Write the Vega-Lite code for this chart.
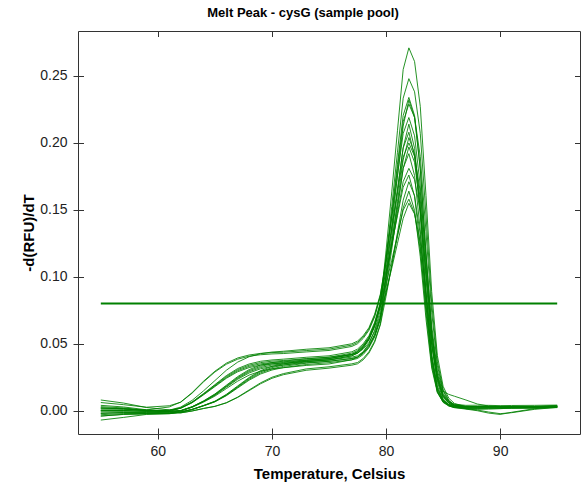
{
"$schema": "https://vega.github.io/schema/vega-lite/v6.json",
"width": 502, "height": 403,
"autosize": {"type": "none"},
"padding": {"left": 78, "top": 31, "right": 2, "bottom": 56},
"background": "white",
"title": {"text": "Melt Peak - cysG (sample pool)", "fontSize": 13, "fontWeight": "bold", "font": "Liberation Sans", "color": "#000", "anchor": "middle", "frame": "group", "dx": -26, "dy": 10, "offset": 11, "baseline": "alphabetic"},
"config": {"view": {"stroke": "#333", "strokeWidth": 1}, "axis": {"labelFont": "Liberation Sans", "titleFont": "Liberation Sans", "grid": false, "tickColor": "#333", "labelColor": "#222", "titleColor": "#000"}},
"datasets": {
"curves": [
{"s":1,"t":55,"v":0.002},{"s":1,"t":57,"v":0.0015},{"s":1,"t":59,"v":0.0},{"s":1,"t":61,"v":-0.0006},{"s":1,"t":62,"v":0.0},{"s":1,"t":63,"v":0.0029},{"s":1,"t":64,"v":0.0071},{"s":1,"t":65,"v":0.0122},{"s":1,"t":66,"v":0.0185},{"s":1,"t":67,"v":0.0248},{"s":1,"t":68,"v":0.0299},{"s":1,"t":69,"v":0.0331},{"s":1,"t":70,"v":0.035},{"s":1,"t":71,"v":0.036},{"s":1,"t":73,"v":0.0377},{"s":1,"t":75,"v":0.0389},{"s":1,"t":77,"v":0.042},{"s":1,"t":77.5,"v":0.044},{"s":1,"t":78,"v":0.048},{"s":1,"t":78.5,"v":0.054},{"s":1,"t":79,"v":0.064},{"s":1,"t":79.5,"v":0.079},{"s":1,"t":80,"v":0.1194},{"s":1,"t":80.5,"v":0.1634},{"s":1,"t":81,"v":0.2091},{"s":1,"t":81.5,"v":0.2548},{"s":1,"t":82,"v":0.271},{"s":1,"t":82.5,"v":0.2608},{"s":1,"t":83,"v":0.2273},{"s":1,"t":83.5,"v":0.1608},{"s":1,"t":84,"v":0.089},{"s":1,"t":84.5,"v":0.0411},{"s":1,"t":85,"v":0.0183},{"s":1,"t":85.5,"v":0.0093},{"s":1,"t":86,"v":0.0054},{"s":1,"t":87,"v":0.003},{"s":1,"t":88,"v":0.003},{"s":1,"t":89,"v":0.0032},{"s":1,"t":90,"v":0.003},{"s":1,"t":91,"v":0.0028},{"s":1,"t":93,"v":0.003},{"s":1,"t":95,"v":0.0035},
{"s":2,"t":55,"v":0.0},{"s":2,"t":57,"v":0.0001},{"s":2,"t":59,"v":-0.0005},{"s":2,"t":61,"v":0.0},{"s":2,"t":62,"v":0.0018},{"s":2,"t":63,"v":0.0059},{"s":2,"t":64,"v":0.0118},{"s":2,"t":65,"v":0.018},{"s":2,"t":66,"v":0.0242},{"s":2,"t":67,"v":0.0291},{"s":2,"t":68,"v":0.0322},{"s":2,"t":69,"v":0.0341},{"s":2,"t":70,"v":0.035},{"s":2,"t":71,"v":0.0355},{"s":2,"t":73,"v":0.0369},{"s":2,"t":75,"v":0.038},{"s":2,"t":77,"v":0.041},{"s":2,"t":77.5,"v":0.043},{"s":2,"t":78,"v":0.047},{"s":2,"t":78.5,"v":0.053},{"s":2,"t":79,"v":0.063},{"s":2,"t":79.5,"v":0.078},{"s":2,"t":80,"v":0.1137},{"s":2,"t":80.5,"v":0.1526},{"s":2,"t":81,"v":0.193},{"s":2,"t":81.5,"v":0.2334},{"s":2,"t":82,"v":0.248},{"s":2,"t":82.5,"v":0.2382},{"s":2,"t":83,"v":0.2072},{"s":2,"t":83.5,"v":0.1462},{"s":2,"t":84,"v":0.0806},{"s":2,"t":84.5,"v":0.0368},{"s":2,"t":85,"v":0.016},{"s":2,"t":85.5,"v":0.0078},{"s":2,"t":86,"v":0.0041},{"s":2,"t":87,"v":0.0022},{"s":2,"t":88,"v":0.002},{"s":2,"t":89,"v":0.0021},{"s":2,"t":90,"v":0.002},{"s":2,"t":91,"v":0.0022},{"s":2,"t":93,"v":0.0024},{"s":2,"t":95,"v":0.0028},
{"s":3,"t":55,"v":-0.002},{"s":3,"t":57,"v":-0.0013},{"s":3,"t":59,"v":-0.0015},{"s":3,"t":61,"v":-0.0014},{"s":3,"t":62,"v":0.0001},{"s":3,"t":63,"v":0.003},{"s":3,"t":64,"v":0.0073},{"s":3,"t":65,"v":0.0125},{"s":3,"t":66,"v":0.019},{"s":3,"t":67,"v":0.0255},{"s":3,"t":68,"v":0.0307},{"s":3,"t":69,"v":0.034},{"s":3,"t":70,"v":0.0359},{"s":3,"t":71,"v":0.037},{"s":3,"t":73,"v":0.0387},{"s":3,"t":75,"v":0.0399},{"s":3,"t":77,"v":0.043},{"s":3,"t":77.5,"v":0.045},{"s":3,"t":78,"v":0.049},{"s":3,"t":78.5,"v":0.055},{"s":3,"t":79,"v":0.065},{"s":3,"t":79.5,"v":0.08},{"s":3,"t":80,"v":0.1123},{"s":3,"t":80.5,"v":0.1474},{"s":3,"t":81,"v":0.184},{"s":3,"t":81.5,"v":0.2205},{"s":3,"t":82,"v":0.234},{"s":3,"t":82.5,"v":0.2204},{"s":3,"t":83,"v":0.181},{"s":3,"t":83.5,"v":0.1177},{"s":3,"t":84,"v":0.0584},{"s":3,"t":84.5,"v":0.0256},{"s":3,"t":85,"v":0.0111},{"s":3,"t":85.5,"v":0.0058},{"s":3,"t":86,"v":0.0038},{"s":3,"t":87,"v":0.003},{"s":3,"t":88,"v":0.0031},{"s":3,"t":89,"v":0.003},{"s":3,"t":90,"v":0.0029},{"s":3,"t":91,"v":0.003},{"s":3,"t":93,"v":0.0032},{"s":3,"t":95,"v":0.0033},
{"s":4,"t":55,"v":0.004},{"s":4,"t":57,"v":0.0028},{"s":4,"t":59,"v":0.0007},{"s":4,"t":61,"v":-0.0007},{"s":4,"t":62,"v":-0.001},{"s":4,"t":63,"v":0.0009},{"s":4,"t":64,"v":0.0037},{"s":4,"t":65,"v":0.0068},{"s":4,"t":66,"v":0.0115},{"s":4,"t":67,"v":0.0175},{"s":4,"t":68,"v":0.0235},{"s":4,"t":69,"v":0.0282},{"s":4,"t":70,"v":0.0313},{"s":4,"t":71,"v":0.0331},{"s":4,"t":73,"v":0.0355},{"s":4,"t":75,"v":0.0369},{"s":4,"t":77,"v":0.039},{"s":4,"t":77.5,"v":0.04},{"s":4,"t":78,"v":0.043},{"s":4,"t":78.5,"v":0.048},{"s":4,"t":79,"v":0.056},{"s":4,"t":79.5,"v":0.069},{"s":4,"t":80,"v":0.102},{"s":4,"t":80.5,"v":0.1379},{"s":4,"t":81,"v":0.1753},{"s":4,"t":81.5,"v":0.2126},{"s":4,"t":82,"v":0.232},{"s":4,"t":82.5,"v":0.2189},{"s":4,"t":83,"v":0.1803},{"s":4,"t":83.5,"v":0.1177},{"s":4,"t":84,"v":0.0589},{"s":4,"t":84.5,"v":0.0263},{"s":4,"t":85,"v":0.012},{"s":4,"t":85.5,"v":0.0068},{"s":4,"t":86,"v":0.0048},{"s":4,"t":87,"v":0.004},{"s":4,"t":88,"v":0.0041},{"s":4,"t":89,"v":0.004},{"s":4,"t":90,"v":0.0038},{"s":4,"t":91,"v":0.0039},{"s":4,"t":93,"v":0.004},{"s":4,"t":95,"v":0.0042},
{"s":5,"t":55,"v":-0.004},{"s":5,"t":57,"v":-0.0027},{"s":5,"t":59,"v":-0.0021},{"s":5,"t":61,"v":-0.0007},{"s":5,"t":62,"v":0.0021},{"s":5,"t":63,"v":0.0065},{"s":5,"t":64,"v":0.0128},{"s":5,"t":65,"v":0.0195},{"s":5,"t":66,"v":0.0262},{"s":5,"t":67,"v":0.0315},{"s":5,"t":68,"v":0.0349},{"s":5,"t":69,"v":0.0369},{"s":5,"t":70,"v":0.0379},{"s":5,"t":71,"v":0.0385},{"s":5,"t":73,"v":0.0399},{"s":5,"t":75,"v":0.041},{"s":5,"t":77,"v":0.044},{"s":5,"t":77.5,"v":0.046},{"s":5,"t":78,"v":0.05},{"s":5,"t":78.5,"v":0.056},{"s":5,"t":79,"v":0.066},{"s":5,"t":79.5,"v":0.081},{"s":5,"t":80,"v":0.112},{"s":5,"t":80.5,"v":0.1458},{"s":5,"t":81,"v":0.1808},{"s":5,"t":81.5,"v":0.2159},{"s":5,"t":82,"v":0.229},{"s":5,"t":82.5,"v":0.2191},{"s":5,"t":83,"v":0.1899},{"s":5,"t":83.5,"v":0.1337},{"s":5,"t":84,"v":0.0736},{"s":5,"t":84.5,"v":0.0338},{"s":5,"t":85,"v":0.0148},{"s":5,"t":85.5,"v":0.0072},{"s":5,"t":86,"v":0.0039},{"s":5,"t":87,"v":0.0015},{"s":5,"t":88,"v":0.001},{"s":5,"t":89,"v":0.0012},{"s":5,"t":90,"v":0.0015},{"s":5,"t":91,"v":0.002},{"s":5,"t":93,"v":0.0022},{"s":5,"t":95,"v":0.0025},
{"s":6,"t":55,"v":0.0011},{"s":6,"t":57,"v":0.001},{"s":6,"t":59,"v":0.0006},{"s":6,"t":61,"v":0.0028},{"s":6,"t":62,"v":0.0065},{"s":6,"t":63,"v":0.0135},{"s":6,"t":64,"v":0.022},{"s":6,"t":65,"v":0.0295},{"s":6,"t":66,"v":0.0355},{"s":6,"t":67,"v":0.0394},{"s":6,"t":68,"v":0.0416},{"s":6,"t":69,"v":0.0428},{"s":6,"t":70,"v":0.0434},{"s":6,"t":71,"v":0.0437},{"s":6,"t":73,"v":0.0449},{"s":6,"t":75,"v":0.046},{"s":6,"t":77,"v":0.049},{"s":6,"t":77.5,"v":0.051},{"s":6,"t":78,"v":0.055},{"s":6,"t":78.5,"v":0.061},{"s":6,"t":79,"v":0.071},{"s":6,"t":79.5,"v":0.086},{"s":6,"t":80,"v":0.1138},{"s":6,"t":80.5,"v":0.1441},{"s":6,"t":81,"v":0.1755},{"s":6,"t":81.5,"v":0.207},{"s":6,"t":82,"v":0.219},{"s":6,"t":82.5,"v":0.2053},{"s":6,"t":83,"v":0.1679},{"s":6,"t":83.5,"v":0.1091},{"s":6,"t":84,"v":0.0543},{"s":6,"t":84.5,"v":0.024},{"s":6,"t":85,"v":0.0106},{"s":6,"t":85.5,"v":0.0056},{"s":6,"t":86,"v":0.0037},{"s":6,"t":87,"v":0.003},{"s":6,"t":88,"v":0.0029},{"s":6,"t":89,"v":0.003},{"s":6,"t":90,"v":0.0031},{"s":6,"t":91,"v":0.003},{"s":6,"t":93,"v":0.003},{"s":6,"t":95,"v":0.0032},
{"s":7,"t":55,"v":0.008},{"s":7,"t":57,"v":0.0057},{"s":7,"t":59,"v":0.0024},{"s":7,"t":61,"v":0.0006},{"s":7,"t":62,"v":0.0},{"s":7,"t":63,"v":0.0028},{"s":7,"t":64,"v":0.0069},{"s":7,"t":65,"v":0.0118},{"s":7,"t":66,"v":0.018},{"s":7,"t":67,"v":0.0242},{"s":7,"t":68,"v":0.0291},{"s":7,"t":69,"v":0.0322},{"s":7,"t":70,"v":0.0341},{"s":7,"t":71,"v":0.035},{"s":7,"t":73,"v":0.0367},{"s":7,"t":75,"v":0.0379},{"s":7,"t":77,"v":0.04},{"s":7,"t":77.5,"v":0.041},{"s":7,"t":78,"v":0.044},{"s":7,"t":78.5,"v":0.049},{"s":7,"t":79,"v":0.057},{"s":7,"t":79.5,"v":0.07},{"s":7,"t":80,"v":0.0991},{"s":7,"t":80.5,"v":0.1307},{"s":7,"t":81,"v":0.1636},{"s":7,"t":81.5,"v":0.1965},{"s":7,"t":82,"v":0.214},{"s":7,"t":82.5,"v":0.196},{"s":7,"t":83,"v":0.1509},{"s":7,"t":83.5,"v":0.0896},{"s":7,"t":84,"v":0.041},{"s":7,"t":84.5,"v":0.0163},{"s":7,"t":85,"v":0.0077},{"s":7,"t":85.5,"v":0.0047},{"s":7,"t":86,"v":0.0034},{"s":7,"t":87,"v":0.0032},{"s":7,"t":88,"v":0.003},{"s":7,"t":89,"v":0.0028},{"s":7,"t":90,"v":0.003},{"s":7,"t":91,"v":0.0031},{"s":7,"t":93,"v":0.003},{"s":7,"t":95,"v":0.0034},
{"s":8,"t":55,"v":0.002},{"s":8,"t":57,"v":0.0015},{"s":8,"t":59,"v":0.0003},{"s":8,"t":61,"v":0.0004},{"s":8,"t":62,"v":0.0019},{"s":8,"t":63,"v":0.0061},{"s":8,"t":64,"v":0.0122},{"s":8,"t":65,"v":0.0185},{"s":8,"t":66,"v":0.0248},{"s":8,"t":67,"v":0.0299},{"s":8,"t":68,"v":0.0331},{"s":8,"t":69,"v":0.035},{"s":8,"t":70,"v":0.036},{"s":8,"t":71,"v":0.0365},{"s":8,"t":73,"v":0.0379},{"s":8,"t":75,"v":0.039},{"s":8,"t":77,"v":0.042},{"s":8,"t":77.5,"v":0.044},{"s":8,"t":78,"v":0.048},{"s":8,"t":78.5,"v":0.054},{"s":8,"t":79,"v":0.064},{"s":8,"t":79.5,"v":0.079},{"s":8,"t":80,"v":0.106},{"s":8,"t":80.5,"v":0.1353},{"s":8,"t":81,"v":0.1657},{"s":8,"t":81.5,"v":0.1962},{"s":8,"t":82,"v":0.208},{"s":8,"t":82.5,"v":0.1901},{"s":8,"t":83,"v":0.1461},{"s":8,"t":83.5,"v":0.0864},{"s":8,"t":84,"v":0.039},{"s":8,"t":84.5,"v":0.0151},{"s":8,"t":85,"v":0.0066},{"s":8,"t":85.5,"v":0.0036},{"s":8,"t":86,"v":0.0023},{"s":8,"t":87,"v":0.002},{"s":8,"t":88,"v":0.0018},{"s":8,"t":89,"v":0.0019},{"s":8,"t":90,"v":0.002},{"s":8,"t":91,"v":0.0021},{"s":8,"t":93,"v":0.0022},{"s":8,"t":95,"v":0.0026},
{"s":9,"t":55,"v":-0.003},{"s":9,"t":57,"v":-0.0021},{"s":9,"t":59,"v":-0.0021},{"s":9,"t":61,"v":-0.0021},{"s":9,"t":62,"v":-0.0011},{"s":9,"t":63,"v":0.0008},{"s":9,"t":64,"v":0.0036},{"s":9,"t":65,"v":0.0066},{"s":9,"t":66,"v":0.0112},{"s":9,"t":67,"v":0.017},{"s":9,"t":68,"v":0.0228},{"s":9,"t":69,"v":0.0274},{"s":9,"t":70,"v":0.0304},{"s":9,"t":71,"v":0.0322},{"s":9,"t":73,"v":0.0345},{"s":9,"t":75,"v":0.0359},{"s":9,"t":77,"v":0.038},{"s":9,"t":77.5,"v":0.039},{"s":9,"t":78,"v":0.042},{"s":9,"t":78.5,"v":0.047},{"s":9,"t":79,"v":0.055},{"s":9,"t":79.5,"v":0.068},{"s":9,"t":80,"v":0.0954},{"s":9,"t":80.5,"v":0.1253},{"s":9,"t":81,"v":0.1563},{"s":9,"t":81.5,"v":0.1873},{"s":9,"t":82,"v":0.204},{"s":9,"t":82.5,"v":0.192},{"s":9,"t":83,"v":0.1577},{"s":9,"t":83.5,"v":0.1027},{"s":9,"t":84,"v":0.0512},{"s":9,"t":84.5,"v":0.0226},{"s":9,"t":85,"v":0.01},{"s":9,"t":85.5,"v":0.0055},{"s":9,"t":86,"v":0.0037},{"s":9,"t":87,"v":0.0029},{"s":9,"t":88,"v":0.003},{"s":9,"t":89,"v":0.0031},{"s":9,"t":90,"v":0.003},{"s":9,"t":91,"v":0.0029},{"s":9,"t":93,"v":0.003},{"s":9,"t":95,"v":0.0033},
{"s":10,"t":55,"v":0.0},{"s":10,"t":57,"v":0.0001},{"s":10,"t":59,"v":-0.0004},{"s":10,"t":61,"v":0.0004},{"s":10,"t":62,"v":0.0027},{"s":10,"t":63,"v":0.0077},{"s":10,"t":64,"v":0.0148},{"s":10,"t":65,"v":0.0225},{"s":10,"t":66,"v":0.0302},{"s":10,"t":67,"v":0.0363},{"s":10,"t":68,"v":0.0403},{"s":10,"t":69,"v":0.0426},{"s":10,"t":70,"v":0.0438},{"s":10,"t":71,"v":0.0444},{"s":10,"t":73,"v":0.0459},{"s":10,"t":75,"v":0.047},{"s":10,"t":77,"v":0.05},{"s":10,"t":77.5,"v":0.052},{"s":10,"t":78,"v":0.056},{"s":10,"t":78.5,"v":0.062},{"s":10,"t":79,"v":0.072},{"s":10,"t":79.5,"v":0.087},{"s":10,"t":80,"v":0.1106},{"s":10,"t":80.5,"v":0.1362},{"s":10,"t":81,"v":0.1628},{"s":10,"t":81.5,"v":0.1894},{"s":10,"t":82,"v":0.2},{"s":10,"t":82.5,"v":0.19},{"s":10,"t":83,"v":0.1636},{"s":10,"t":83.5,"v":0.1149},{"s":10,"t":84,"v":0.0638},{"s":10,"t":84.5,"v":0.03},{"s":10,"t":85,"v":0.0145},{"s":10,"t":85.5,"v":0.0122},{"s":10,"t":86,"v":0.0108},{"s":10,"t":87,"v":0.008},{"s":10,"t":88,"v":0.005},{"s":10,"t":89,"v":0.0035},{"s":10,"t":90,"v":0.003},{"s":10,"t":91,"v":0.003},{"s":10,"t":93,"v":0.0031},{"s":10,"t":95,"v":0.0034},
{"s":11,"t":55,"v":0.003},{"s":11,"t":57,"v":0.0021},{"s":11,"t":59,"v":0.0002},{"s":11,"t":61,"v":-0.0012},{"s":11,"t":62,"v":-0.0016},{"s":11,"t":63,"v":-0.0002},{"s":11,"t":64,"v":0.0017},{"s":11,"t":65,"v":0.0033},{"s":11,"t":66,"v":0.006},{"s":11,"t":67,"v":0.0102},{"s":11,"t":68,"v":0.0155},{"s":11,"t":69,"v":0.0208},{"s":11,"t":70,"v":0.025},{"s":11,"t":71,"v":0.0277},{"s":11,"t":73,"v":0.0312},{"s":11,"t":75,"v":0.0328},{"s":11,"t":77,"v":0.035},{"s":11,"t":77.5,"v":0.036},{"s":11,"t":78,"v":0.039},{"s":11,"t":78.5,"v":0.044},{"s":11,"t":79,"v":0.052},{"s":11,"t":79.5,"v":0.065},{"s":11,"t":80,"v":0.0916},{"s":11,"t":80.5,"v":0.1205},{"s":11,"t":81,"v":0.1506},{"s":11,"t":81.5,"v":0.1807},{"s":11,"t":82,"v":0.197},{"s":11,"t":82.5,"v":0.1855},{"s":11,"t":83,"v":0.1522},{"s":11,"t":83.5,"v":0.0989},{"s":11,"t":84,"v":0.0488},{"s":11,"t":84.5,"v":0.0211},{"s":11,"t":85,"v":0.0088},{"s":11,"t":85.5,"v":0.0043},{"s":11,"t":86,"v":0.0027},{"s":11,"t":87,"v":0.002},{"s":11,"t":88,"v":0.0021},{"s":11,"t":89,"v":0.002},{"s":11,"t":90,"v":0.0019},{"s":11,"t":91,"v":0.002},{"s":11,"t":93,"v":0.0021},{"s":11,"t":95,"v":0.0024},
{"s":12,"t":55,"v":-0.007},{"s":12,"t":57,"v":-0.005},{"s":12,"t":59,"v":-0.0028},{"s":12,"t":61,"v":-0.0021},{"s":12,"t":62,"v":-0.0002},{"s":12,"t":63,"v":0.0025},{"s":12,"t":64,"v":0.0064},{"s":12,"t":65,"v":0.0109},{"s":12,"t":66,"v":0.0165},{"s":12,"t":67,"v":0.0221},{"s":12,"t":68,"v":0.0266},{"s":12,"t":69,"v":0.0295},{"s":12,"t":70,"v":0.0312},{"s":12,"t":71,"v":0.0321},{"s":12,"t":73,"v":0.0338},{"s":12,"t":75,"v":0.0349},{"s":12,"t":77,"v":0.038},{"s":12,"t":77.5,"v":0.04},{"s":12,"t":78,"v":0.044},{"s":12,"t":78.5,"v":0.05},{"s":12,"t":79,"v":0.06},{"s":12,"t":79.5,"v":0.075},{"s":12,"t":80,"v":0.0994},{"s":12,"t":80.5,"v":0.1259},{"s":12,"t":81,"v":0.1535},{"s":12,"t":81.5,"v":0.1811},{"s":12,"t":82,"v":0.192},{"s":12,"t":82.5,"v":0.1756},{"s":12,"t":83,"v":0.135},{"s":12,"t":83.5,"v":0.0799},{"s":12,"t":84,"v":0.0361},{"s":12,"t":84.5,"v":0.0141},{"s":12,"t":85,"v":0.0062},{"s":12,"t":85.5,"v":0.0035},{"s":12,"t":86,"v":0.0023},{"s":12,"t":87,"v":0.0012},{"s":12,"t":88,"v":0.0},{"s":12,"t":89,"v":-0.0018},{"s":12,"t":90,"v":-0.0028},{"s":12,"t":91,"v":-0.0012},{"s":12,"t":93,"v":0.0015},{"s":12,"t":95,"v":0.0028},
{"s":13,"t":55,"v":-0.002},{"s":13,"t":57,"v":-0.0014},{"s":13,"t":59,"v":-0.0017},{"s":13,"t":61,"v":-0.0019},{"s":13,"t":62,"v":-0.001},{"s":13,"t":63,"v":0.001},{"s":13,"t":64,"v":0.0039},{"s":13,"t":65,"v":0.0071},{"s":13,"t":66,"v":0.0122},{"s":13,"t":67,"v":0.0185},{"s":13,"t":68,"v":0.0248},{"s":13,"t":69,"v":0.0299},{"s":13,"t":70,"v":0.0331},{"s":13,"t":71,"v":0.035},{"s":13,"t":73,"v":0.0375},{"s":13,"t":75,"v":0.0389},{"s":13,"t":77,"v":0.042},{"s":13,"t":77.5,"v":0.044},{"s":13,"t":78,"v":0.048},{"s":13,"t":78.5,"v":0.054},{"s":13,"t":79,"v":0.064},{"s":13,"t":79.5,"v":0.079},{"s":13,"t":80,"v":0.1002},{"s":13,"t":80.5,"v":0.1232},{"s":13,"t":81,"v":0.1472},{"s":13,"t":81.5,"v":0.1711},{"s":13,"t":82,"v":0.181},{"s":13,"t":82.5,"v":0.1725},{"s":13,"t":83,"v":0.149},{"s":13,"t":83.5,"v":0.1049},{"s":13,"t":84,"v":0.0584},{"s":13,"t":84.5,"v":0.0276},{"s":13,"t":85,"v":0.0129},{"s":13,"t":85.5,"v":0.0071},{"s":13,"t":86,"v":0.0045},{"s":13,"t":87,"v":0.0032},{"s":13,"t":88,"v":0.003},{"s":13,"t":89,"v":0.0029},{"s":13,"t":90,"v":0.003},{"s":13,"t":91,"v":0.0032},{"s":13,"t":93,"v":0.0031},{"s":13,"t":95,"v":0.0035},
{"s":14,"t":55,"v":0.0061},{"s":14,"t":57,"v":0.0045},{"s":14,"t":59,"v":0.0026},{"s":14,"t":61,"v":0.0037},{"s":14,"t":62,"v":0.0063},{"s":14,"t":63,"v":0.0131},{"s":14,"t":64,"v":0.0215},{"s":14,"t":65,"v":0.0289},{"s":14,"t":66,"v":0.0347},{"s":14,"t":67,"v":0.0385},{"s":14,"t":68,"v":0.0407},{"s":14,"t":69,"v":0.0418},{"s":14,"t":70,"v":0.0424},{"s":14,"t":71,"v":0.0427},{"s":14,"t":73,"v":0.0439},{"s":14,"t":75,"v":0.045},{"s":14,"t":77,"v":0.048},{"s":14,"t":77.5,"v":0.05},{"s":14,"t":78,"v":0.054},{"s":14,"t":78.5,"v":0.06},{"s":14,"t":79,"v":0.07},{"s":14,"t":79.5,"v":0.085},{"s":14,"t":80,"v":0.1038},{"s":14,"t":80.5,"v":0.1243},{"s":14,"t":81,"v":0.1456},{"s":14,"t":81.5,"v":0.1669},{"s":14,"t":82,"v":0.176},{"s":14,"t":82.5,"v":0.16},{"s":14,"t":83,"v":0.1227},{"s":14,"t":83.5,"v":0.0732},{"s":14,"t":84,"v":0.0341},{"s":14,"t":84.5,"v":0.0142},{"s":14,"t":85,"v":0.007},{"s":14,"t":85.5,"v":0.0045},{"s":14,"t":86,"v":0.0033},{"s":14,"t":87,"v":0.003},{"s":14,"t":88,"v":0.0031},{"s":14,"t":89,"v":0.003},{"s":14,"t":90,"v":0.0029},{"s":14,"t":91,"v":0.003},{"s":14,"t":93,"v":0.0031},{"s":14,"t":95,"v":0.0033},
{"s":15,"t":55,"v":-0.001},{"s":15,"t":57,"v":-0.0007},{"s":15,"t":59,"v":-0.0014},{"s":15,"t":61,"v":-0.002},{"s":15,"t":62,"v":-0.0016},{"s":15,"t":63,"v":-0.0002},{"s":15,"t":64,"v":0.0016},{"s":15,"t":65,"v":0.0032},{"s":15,"t":66,"v":0.0058},{"s":15,"t":67,"v":0.0099},{"s":15,"t":68,"v":0.015},{"s":15,"t":69,"v":0.0201},{"s":15,"t":70,"v":0.0242},{"s":15,"t":71,"v":0.0269},{"s":15,"t":73,"v":0.0302},{"s":15,"t":75,"v":0.0318},{"s":15,"t":77,"v":0.034},{"s":15,"t":77.5,"v":0.035},{"s":15,"t":78,"v":0.038},{"s":15,"t":78.5,"v":0.043},{"s":15,"t":79,"v":0.051},{"s":15,"t":79.5,"v":0.064},{"s":15,"t":80,"v":0.0854},{"s":15,"t":80.5,"v":0.1087},{"s":15,"t":81,"v":0.133},{"s":15,"t":81.5,"v":0.1572},{"s":15,"t":82,"v":0.171},{"s":15,"t":82.5,"v":0.1606},{"s":15,"t":83,"v":0.1316},{"s":15,"t":83.5,"v":0.0855},{"s":15,"t":84,"v":0.0424},{"s":15,"t":84.5,"v":0.0185},{"s":15,"t":85,"v":0.0079},{"s":15,"t":85.5,"v":0.004},{"s":15,"t":86,"v":0.0026},{"s":15,"t":87,"v":0.002},{"s":15,"t":88,"v":0.0019},{"s":15,"t":89,"v":0.002},{"s":15,"t":90,"v":0.0021},{"s":15,"t":91,"v":0.002},{"s":15,"t":93,"v":0.002},{"s":15,"t":95,"v":0.0023},
{"s":16,"t":55,"v":0.002},{"s":16,"t":57,"v":0.0015},{"s":16,"t":59,"v":0.0},{"s":16,"t":61,"v":-0.0006},{"s":16,"t":62,"v":-0.0001},{"s":16,"t":63,"v":0.0027},{"s":16,"t":64,"v":0.0068},{"s":16,"t":65,"v":0.0115},{"s":16,"t":66,"v":0.0175},{"s":16,"t":67,"v":0.0235},{"s":16,"t":68,"v":0.0282},{"s":16,"t":69,"v":0.0313},{"s":16,"t":70,"v":0.0331},{"s":16,"t":71,"v":0.0341},{"s":16,"t":73,"v":0.0358},{"s":16,"t":75,"v":0.0369},{"s":16,"t":77,"v":0.039},{"s":16,"t":77.5,"v":0.04},{"s":16,"t":78,"v":0.043},{"s":16,"t":78.5,"v":0.048},{"s":16,"t":79,"v":0.056},{"s":16,"t":79.5,"v":0.069},{"s":16,"t":80,"v":0.088},{"s":16,"t":80.5,"v":0.1086},{"s":16,"t":81,"v":0.13},{"s":16,"t":81.5,"v":0.1514},{"s":16,"t":82,"v":0.164},{"s":16,"t":82.5,"v":0.1495},{"s":16,"t":83,"v":0.115},{"s":16,"t":83.5,"v":0.0686},{"s":16,"t":84,"v":0.0319},{"s":16,"t":84.5,"v":0.0134},{"s":16,"t":85,"v":0.0066},{"s":16,"t":85.5,"v":0.0043},{"s":16,"t":86,"v":0.0033},{"s":16,"t":87,"v":0.003},{"s":16,"t":88,"v":0.0029},{"s":16,"t":89,"v":0.0031},{"s":16,"t":90,"v":0.003},{"s":16,"t":91,"v":0.003},{"s":16,"t":93,"v":0.0029},{"s":16,"t":95,"v":0.0033},
{"s":17,"t":55,"v":-0.004},{"s":17,"t":57,"v":-0.0028},{"s":17,"t":59,"v":-0.0025},{"s":17,"t":61,"v":-0.0023},{"s":17,"t":62,"v":-0.001},{"s":17,"t":63,"v":0.001},{"s":17,"t":64,"v":0.0038},{"s":17,"t":65,"v":0.0069},{"s":17,"t":66,"v":0.0118},{"s":17,"t":67,"v":0.018},{"s":17,"t":68,"v":0.0242},{"s":17,"t":69,"v":0.0291},{"s":17,"t":70,"v":0.0322},{"s":17,"t":71,"v":0.0341},{"s":17,"t":73,"v":0.0365},{"s":17,"t":75,"v":0.0379},{"s":17,"t":77,"v":0.041},{"s":17,"t":77.5,"v":0.043},{"s":17,"t":78,"v":0.047},{"s":17,"t":78.5,"v":0.053},{"s":17,"t":79,"v":0.063},{"s":17,"t":79.5,"v":0.078},{"s":17,"t":80,"v":0.0945},{"s":17,"t":80.5,"v":0.1124},{"s":17,"t":81,"v":0.1311},{"s":17,"t":81.5,"v":0.1497},{"s":17,"t":82,"v":0.158},{"s":17,"t":82.5,"v":0.1474},{"s":17,"t":83,"v":0.1201},{"s":17,"t":83.5,"v":0.0778},{"s":17,"t":84,"v":0.0387},{"s":17,"t":84.5,"v":0.0171},{"s":17,"t":85,"v":0.0075},{"s":17,"t":85.5,"v":0.0039},{"s":17,"t":86,"v":0.0025},{"s":17,"t":87,"v":0.0015},{"s":17,"t":88,"v":0.0005},{"s":17,"t":89,"v":-0.001},{"s":17,"t":90,"v":-0.0022},{"s":17,"t":91,"v":-0.0015},{"s":17,"t":93,"v":0.001},{"s":17,"t":95,"v":0.0025},
{"s":18,"t":55,"v":0.0},{"s":18,"t":57,"v":0.0001},{"s":18,"t":59,"v":-0.0005},{"s":18,"t":61,"v":0.0001},{"s":18,"t":62,"v":0.002},{"s":18,"t":63,"v":0.0063},{"s":18,"t":64,"v":0.0125},{"s":18,"t":65,"v":0.019},{"s":18,"t":66,"v":0.0255},{"s":18,"t":67,"v":0.0307},{"s":18,"t":68,"v":0.034},{"s":18,"t":69,"v":0.0359},{"s":18,"t":70,"v":0.037},{"s":18,"t":71,"v":0.0375},{"s":18,"t":73,"v":0.0389},{"s":18,"t":75,"v":0.04},{"s":18,"t":77,"v":0.042},{"s":18,"t":77.5,"v":0.043},{"s":18,"t":78,"v":0.046},{"s":18,"t":78.5,"v":0.051},{"s":18,"t":79,"v":0.059},{"s":18,"t":79.5,"v":0.072},{"s":18,"t":80,"v":0.0885},{"s":18,"t":80.5,"v":0.1064},{"s":18,"t":81,"v":0.125},{"s":18,"t":81.5,"v":0.1436},{"s":18,"t":82,"v":0.155},{"s":18,"t":82.5,"v":0.1469},{"s":18,"t":83,"v":0.1261},{"s":18,"t":83.5,"v":0.0886},{"s":18,"t":84,"v":0.0495},{"s":18,"t":84.5,"v":0.0237},{"s":18,"t":85,"v":0.0113},{"s":18,"t":85.5,"v":0.0064},{"s":18,"t":86,"v":0.0042},{"s":18,"t":87,"v":0.0031},{"s":18,"t":88,"v":0.003},{"s":18,"t":89,"v":0.003},{"s":18,"t":90,"v":0.0031},{"s":18,"t":91,"v":0.003},{"s":18,"t":93,"v":0.003},{"s":18,"t":95,"v":0.0034}
],
"threshold": [{"t0": 55, "t1": 95, "y": 0.08}]
},
"layer": [
{
"data": {"name": "curves"},
"mark": {"type": "line", "stroke": "#008000", "strokeWidth": 1, "opacity": 0.85},
"encoding": {
"x": {"field": "t", "type": "quantitative", "scale": {"domain": [53, 97], "nice": false, "zero": false},
"axis": {"orient": "bottom", "values": [60, 70, 80, 90], "domain": false, "tickSize": 11, "offset": -6, "labelFontSize": 14, "labelPadding": 5, "title": "Temperature, Celsius", "titleFontSize": 15, "titleFontWeight": "bold", "titlePadding": 8}},
"y": {"field": "v", "type": "quantitative", "scale": {"domain": [-0.0174, 0.2836], "nice": false, "zero": false},
"axis": {"orient": "left", "values": [0, 0.05, 0.1, 0.15, 0.2, 0.25], "format": ".2f", "domain": false, "tickSize": 10.5, "offset": -5.5, "labelFontSize": 14, "labelPadding": 6, "title": "-d(RFU)/dT", "titleFontSize": 15, "titleFontWeight": "bold", "titlePadding": 3}},
"detail": {"field": "s", "type": "nominal"}
}
},
{
"data": {"name": "threshold"},
"mark": {"type": "rule", "stroke": "#008000", "strokeWidth": 2},
"encoding": {
"x": {"field": "t0", "type": "quantitative", "axis": {"orient": "top", "values": [60, 70, 80, 90], "labels": false, "domain": false, "tickSize": 5.5, "offset": -5.5, "title": null}},
"x2": {"field": "t1"},
"y": {"field": "y", "type": "quantitative", "axis": {"orient": "right", "values": [0, 0.05, 0.1, 0.15, 0.2, 0.25], "labels": false, "domain": false, "tickSize": 5.5, "offset": -5.5, "title": null}}
}
}
],
"resolve": {"axis": {"x": "independent", "y": "independent"}}
}
